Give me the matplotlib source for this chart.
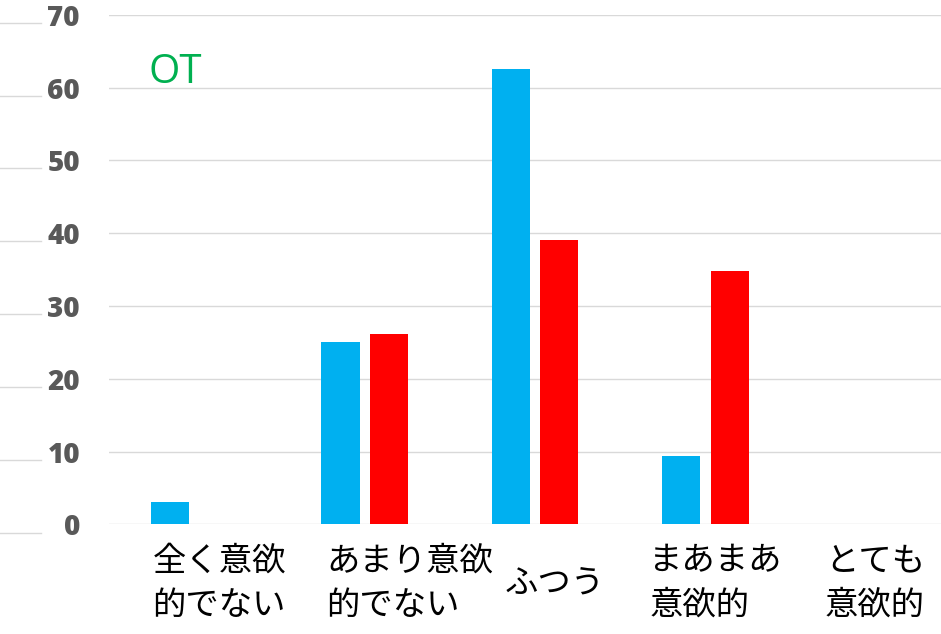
import matplotlib.pyplot as plt
import matplotlib.transforms as mtransforms
import numpy as np

# data
categories = ['全く意欲\n的でない', 'あまり意欲\n的でない', 'ふつう', 'まあまあ\n意欲的', 'とても\n意欲的']
series_a = [3.1, 25.0, 62.5, 9.4, 0.0]    # blue
series_b = [0.0, 26.1, 39.1, 34.8, 0.0]   # red
y_ticks = [0, 10, 20, 30, 40, 50, 60, 70]
panel_label = 'OT'

# label placement tweaks (left edge offset from category centre)
label_dx = [-0.245, -0.225, -0.18, -0.33, -0.30]
label_align = ['left', 'left', 'left', 'left', 'center']

fig = plt.figure(figsize=(9.41, 6.34), dpi=100)

# stray gridlines from a neighbouring chart at the far left
ax_left = fig.add_axes([0.0, 0.1598, 0.0436, 0.8044])
ax_left.set_ylim(0, 70)
ax_left.set_xlim(0, 1)
for t in y_ticks:
    ax_left.axhline(t, color='#d9d9d9', lw=1.0, clip_on=False)
ax_left.axis('off')

ax = fig.add_axes([0.1160, 0.1730, 0.9054, 0.8038])
x = np.arange(len(categories))
w = 0.224
off = 0.142
ax.bar(x - off, series_a, width=w, color='#00B0F0', zorder=3)
ax.bar(x + off, series_b, width=w, color='#FF0000', zorder=3)

ax.set_xlim(-0.5, len(categories) - 0.5)
ax.set_ylim(0, 70)
ax.set_yticks(y_ticks)
ax.set_yticklabels([str(t) for t in y_ticks], fontfamily='Open Sans',
                   fontweight='heavy', fontsize=20, color='#595959')
ax.tick_params(axis='y', length=0, pad=21)
ax.set_xticks([])
ax.grid(axis='y', color='#d9d9d9', lw=1.0, zorder=0)
for s in ax.spines.values():
    s.set_visible(False)

# category labels below the axis
trans = mtransforms.blended_transform_factory(ax.transData, fig.transFigure)
for i, lab in enumerate(categories):
    ax.text(i + label_dx[i], (634 - 583) / 634, lab, transform=trans,
            ha='left', va='center', multialignment=label_align[i],
            fontsize=24, linespacing=1.33,
            family=['Noto Sans CJK JP', 'DejaVu Sans'], color='black',
            clip_on=False)

fig.text(148.3 / 941, (634 - 82.7) / 634, panel_label, fontfamily='Open Sans',
         fontsize=29, color='#00B050', ha='left', va='baseline')

fig.savefig('out.png', dpi=100)
